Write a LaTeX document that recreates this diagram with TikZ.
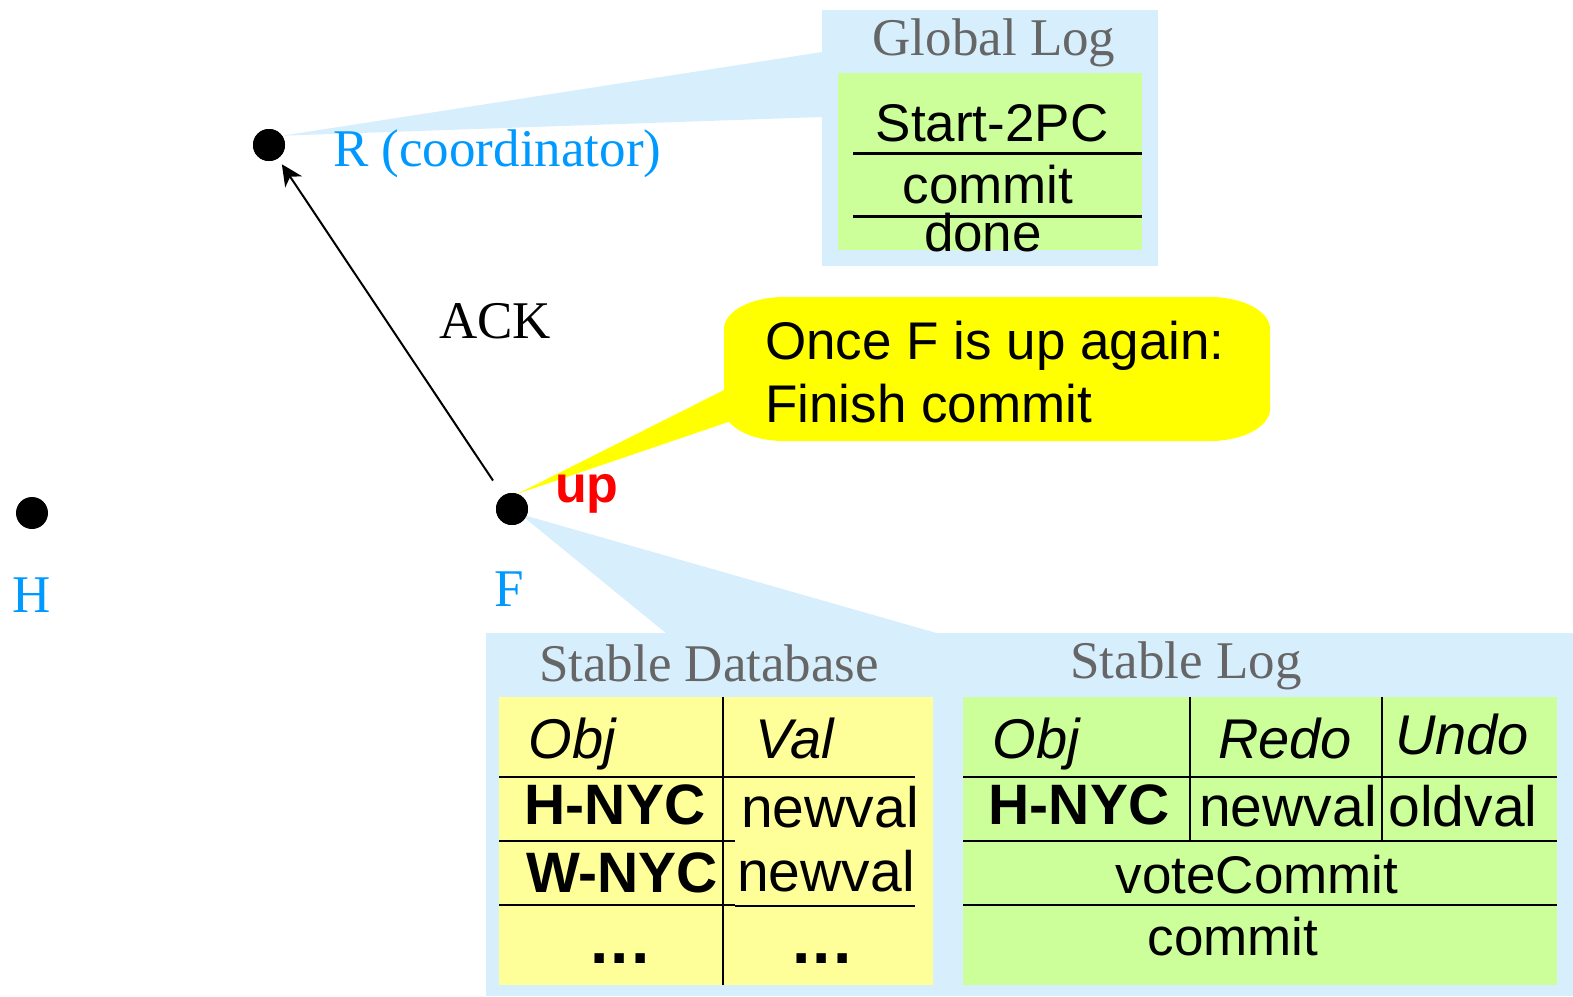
\documentclass[tikz,border=0pt]{standalone}
\usepackage{fontspec}
\setmainfont{Liberation Serif}
\newfontfamily\arial{Liberation Sans}
\usetikzlibrary{arrows.meta}

\definecolor{panelblue}{RGB}{215,238,252}
\definecolor{loggreen}{RGB}{204,255,153}
\definecolor{dbyellow}{RGB}{255,255,153}
\definecolor{noteyellow}{RGB}{255,255,0}
\definecolor{siteblue}{RGB}{0,153,255}
\definecolor{titlegray}{RGB}{102,102,102}

\newcommand{\moredots}{{\fontsize{66}{66}\selectfont .\kern2pt.\kern2pt.}}

\begin{document}
\begin{tikzpicture}[x=1pt,y=-1pt,
  dot/.style={circle,fill=black,minimum size=32pt,inner sep=0pt},
  site/.style={text=siteblue,font=\fontsize{53}{60}\selectfont,inner sep=0pt,anchor=base},
  title/.style={text=titlegray,font=\fontsize{53}{60}\selectfont,inner sep=0pt,anchor=base},
  entry/.style={font=\arial\fontsize{53}{60}\selectfont,inner sep=0pt,anchor=base},
  cell/.style={font=\arial\fontsize{57}{60}\selectfont,inner sep=0pt,anchor=base},
  boldcell/.style={font=\arial\bfseries\fontsize{57}{60}\selectfont,inner sep=0pt,anchor=base},
  head/.style={font=\arial\itshape\fontsize{56}{60}\selectfont,inner sep=0pt,anchor=base},
  rule/.style={line width=2.6pt},
  thinrule/.style={line width=1.2pt},
]
\useasboundingbox (0,0) rectangle (1573,996);

% sites
\node[dot] (R) at (269,145) {};
\node[dot] (H) at (32,513) {};
\node[dot] (F) at (512,509) {};
\coordinate (Fsrc) at (520,514);

% global log panel and its pointer
\coordinate (GLa) at (822,52);
\coordinate (GLb) at (822,117);
\fill[panelblue] (R.35) -- (GLa) -- (GLb) -- cycle;
\fill[panelblue] (822,10) rectangle (1158,266);
\fill[loggreen] (838,73) rectangle (1142,250);
\draw[rule] (853,153.5) -- (1142,153.5);
\draw[rule] (853,216.5) -- (1142,216.5);

% stable storage panel and its pointer
\coordinate (SPa) at (667,634);
\coordinate (SPb) at (940,634);
\fill[panelblue] (Fsrc) -- (SPa) -- (SPb) -- cycle;
\fill[panelblue] (486,633) rectangle (1573,996);

% stable database table
\fill[dbyellow] (499,697) rectangle (933,985);
\draw[rule] (723,697) -- (723,985);
\draw[rule] (499,777) -- (915,777);
\draw[rule] (499,841) -- (735,841);
\draw[rule] (499,905) -- (735,905);
\draw[thinrule] (735,906) -- (915,906);

% stable log table
\fill[loggreen] (963,697) rectangle (1557,985);
\draw[rule] (1190,697) -- (1190,841);
\draw[rule] (1382,697) -- (1382,841);
\draw[rule] (963,777) -- (1557,777);
\draw[rule] (963,841) -- (1557,841);
\draw[rule] (963,905) -- (1557,905);

% callout with pointer to F
\coordinate (COa) at (740,382);
\coordinate (COb) at (740,418);
\fill[noteyellow] (F.70) -- (COa) -- (COb) -- cycle;
\fill[noteyellow] (784,297) -- (1210,297)
  arc[start angle=90,end angle=0,x radius=60pt,y radius=32pt] -- (1270,409)
  arc[start angle=0,end angle=-90,x radius=60pt,y radius=32pt] -- (784,441)
  arc[start angle=-90,end angle=-180,x radius=60pt,y radius=32pt] -- (724,329)
  arc[start angle=180,end angle=90,x radius=60pt,y radius=32pt] -- cycle;

% redraw dots above the pointers
\node[dot] at (R) {};
\node[dot] at (F) {};

% acknowledgement message
\draw[line width=2pt,-{Stealth[length=21pt,width=20pt,inset=6pt]},shorten <=18pt,shorten >=7pt] (F) -- (R);
\node[font=\fontsize{53}{60}\selectfont,inner sep=0pt,anchor=base west] (ack) at (439,338) {ACK};

% site labels
\node[site,anchor=base west] (Rlab) at (333,166) {R (coordinator)};
\node[site] (Hlab) at (32,612) {H};
\node[site] (Flab) at (509,606) {F};
\node[font=\arial\bfseries\fontsize{52}{60}\selectfont,text=red,inner sep=0pt,anchor=base west] (up) at (555,502) {up};

% callout text
\node[entry,anchor=base west] (note1) at (765,359) {Once F is up again:};
\node[entry,anchor=base west] (note2) at (765,422) {Finish commit};

% global log contents
\node[title] (gltitle) at (994,55) {Global Log};
\node[entry] (gl1) at (992,141) {Start-2PC};
\node[entry] (gl2) at (988,203) {commit};
\node[entry] (gl3) at (983,251) {done};

% stable database contents
\node[title] (dbtitle) at (709,681) {Stable Database};
\node[head] (dbh1) at (572,758) {Obj};
\node[head] (dbh2) at (795,758) {Val};
\node[boldcell] (db11) at (615,824) {H-NYC};
\node[cell] (db12) at (830,827) {newval};
\node[boldcell] (db21) at (622,892) {W-NYC};
\node[cell] (db22) at (826,891) {newval};
\node[boldcell] (db31) at (620,963) {\moredots};
\node[boldcell] (db32) at (822,963) {\moredots};

% stable log contents
\node[title] (sltitle) at (1186,678) {Stable Log};
\node[head] (slh1) at (1036,758) {Obj};
\node[head] (slh2) at (1285,758) {Redo};
\node[head] (slh3) at (1462,754) {Undo};
\node[boldcell] (sl11) at (1079,824) {H-NYC};
\node[cell] (sl12) at (1288,826) {newval};
\node[cell] (sl13) at (1463,826) {oldval};
\node[entry] (sl2) at (1257,893) {voteCommit};
\node[entry] (sl3) at (1233,955) {commit};
\end{tikzpicture}
\end{document}
